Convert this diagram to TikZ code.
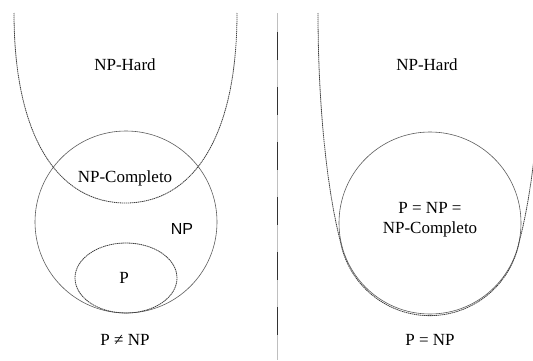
\documentclass[tikz,border=0pt]{standalone}
\usepackage{fontspec}
\setmainfont{Liberation Serif}
\newfontfamily\timesfont{Liberation Serif}
\newfontfamily\arialfont{Liberation Sans}
\usetikzlibrary{positioning}

\begin{document}
\begin{tikzpicture}[x=1pt,y=1pt,
    setline/.style={draw=black!65,line width=0.6pt},
    hardline/.style={draw=black!75,line width=0.8pt,dash pattern=on 1.4pt off 0.6pt},
    lbl/.style={font=\timesfont\fontsize{17}{20}\selectfont,inner sep=1pt,align=center}]
  \useasboundingbox (0,0) rectangle (533,360);
  \clip (0,0) rectangle (533,360);

  % left side: P != NP
  \draw[hardline] (14,347) .. controls (14,220) and (60,157) .. (125.5,157)
                  .. controls (191,157) and (237,220) .. (237,347);
  \draw[setline] (126,138) circle (91);
  \draw[hardline] (126,82) ellipse (51 and 35);
  \node[lbl] (hardL) at (125,295) {NP-Hard};
  \node[lbl] (npc) at (125,182) {NP-Completo};
  \node[lbl,font=\arialfont\fontsize{16}{18}\selectfont] (np) at (182,131) {NP};
  \node[lbl] (p) at (124,82) {P};
  \node[lbl] (neq) at (125,20) {P ≠ NP};

  % divider
  \draw[black!25,line width=0.6pt] (277,347) -- (277,0);
  \draw[black!80,line width=1pt,dash pattern=on 28pt off 27pt,dash phase=36pt]
       (277,347) -- (277,0);

  % right side: P = NP
  \draw[setline] (430,137) circle (91);
  \draw[hardline] (318,347) .. controls (318,255) and (327,170) .. (340.5,118)
                  arc (191:349:91)
                  .. controls (533,170) and (542,255) .. (542,347);
  \node[lbl] (hardR) at (427,295) {NP-Hard};
  \node[lbl] (all) at (430,140) {P = NP =\\NP-Completo};
  \node[lbl] (eq) at (430,20) {P = NP};
\end{tikzpicture}
\end{document}
